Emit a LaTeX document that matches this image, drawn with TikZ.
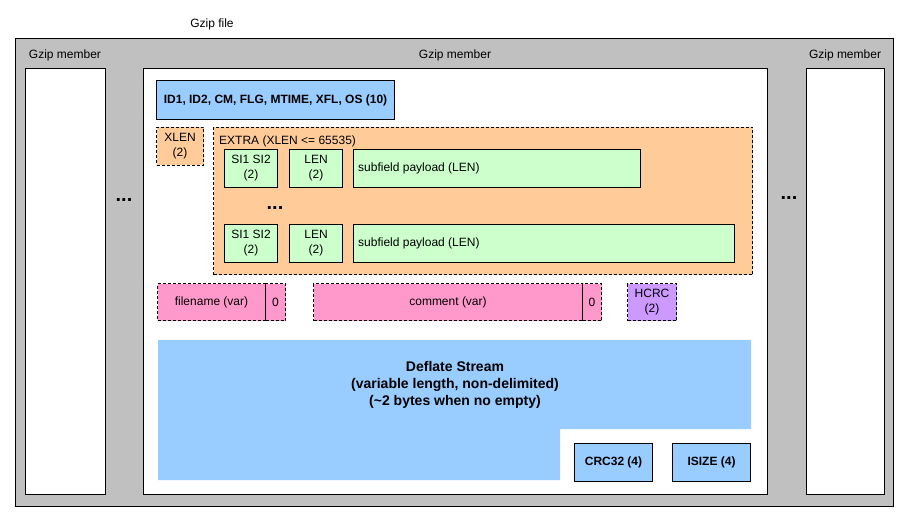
\documentclass[tikz,border=0pt]{standalone}
\usepackage{fontspec}
\setmainfont{Liberation Sans}
\usetikzlibrary{positioning}
\definecolor{membergray}{HTML}{C0C0C0}
\definecolor{hdrblue}{HTML}{99CCFF}
\definecolor{xorange}{HTML}{FFCC99}
\definecolor{subgreen}{HTML}{CCFFCC}
\definecolor{strpink}{HTML}{FF99CC}
\definecolor{crcpurple}{HTML}{CC99FF}
\newcommand{\gzfont}{\fontsize{12}{15}\selectfont}
\tikzstyle{box} = [draw, rectangle, anchor=north west, inner sep=0pt, align=center, line width=1pt]
\tikzstyle{optbox} = [box, dash pattern=on 3pt off 2pt]
\tikzstyle{hdrbox} = [box, fill=hdrblue, font=\fontsize{12}{15}\selectfont\bfseries]
\tikzstyle{subbox} = [box, fill=subgreen, minimum height=38]
\tikzstyle{lbl} = [inner sep=0pt]
\tikzstyle{dots} = [lbl, font=\fontsize{20}{20}\selectfont\bfseries]

\begin{document}
\begin{tikzpicture}[x=1pt, y=-1pt, font=\gzfont]
  \useasboundingbox (0,0) rectangle (909,521);

  % file and members
  \node[box, fill=membergray, minimum width=878, minimum height=468] (file) at (15,38) {};
  \node[lbl] (filelbl) at (212,24) {Gzip file};
  \node[box, fill=white, minimum width=80, minimum height=426] (memL) at (25,68) {};
  \node[box, fill=white, minimum width=624, minimum height=426] (memC) at (143,68) {};
  \node[box, fill=white, minimum width=78, minimum height=426] (memR) at (806,68) {};
  \node[lbl] (memLlbl) at (65,55) {Gzip member};
  \node[lbl] (memClbl) at (455,55) {Gzip member};
  \node[lbl] (memRlbl) at (845,55) {Gzip member};
  \node[dots] (dotsL) at (124,200) {...};
  \node[dots] (dotsR) at (789,198) {...};

  % header
  \node[hdrbox, minimum width=238, minimum height=39] (hdr) at (156,80) {ID1, ID2, CM, FLG, MTIME, XFL, OS (10)};

  % extra field
  \node[optbox, fill=xorange, minimum width=47, minimum height=38] (xlen) at (156,127) {XLEN\\(2)};
  \node[optbox, fill=xorange, minimum width=539, minimum height=147] (extra) at (213,127) {};
  \node[lbl, anchor=west] (extralbl) at (219,141) {EXTRA (XLEN <= 65535)};
  \node[subbox, minimum width=53] (si1) at (224,149) {SI1 SI2\\(2)};
  \node[subbox, minimum width=53] (len1) at (289,149) {LEN\\(2)};
  \node[subbox, minimum width=287] (pay1) at (353,149) {};
  \node[lbl, anchor=west, right=5pt of pay1.west] (pay1lbl) {subfield payload (LEN)};
  \node[dots] (dotsX) at (275,208) {...};
  \node[subbox, minimum width=53] (si2) at (224,224) {SI1 SI2\\(2)};
  \node[subbox, minimum width=53] (len2) at (289,224) {LEN\\(2)};
  \node[subbox, minimum width=381] (pay2) at (353,224) {};
  \node[lbl, anchor=west, right=5pt of pay2.west] (pay2lbl) {subfield payload (LEN)};

  % name, comment, header crc
  \node[optbox, fill=strpink, minimum width=108, minimum height=37] (fname) at (157,283) {filename (var)};
  \node[optbox, fill=strpink, minimum width=20, minimum height=37] (fzero) at (265,283) {0};
  \draw[line width=1pt] (fzero.north west) -- (fzero.south west);
  \node[optbox, fill=strpink, minimum width=269, minimum height=37] (cmt) at (313,283) {comment (var)};
  \node[optbox, fill=strpink, minimum width=19, minimum height=37] (czero) at (582,283) {0};
  \draw[line width=1pt] (czero.north west) -- (czero.south west);
  \node[optbox, fill=crcpurple, minimum width=49, minimum height=37] (hcrc) at (627,283) {HCRC\\(2)};

  % deflate stream and trailer
  \fill[hdrblue] (158,340) -- (751,340) -- (751,429) -- (560,429) -- (560,480) -- (158,480) -- cycle;
  \node[lbl, align=center, font=\fontsize{14}{17}\selectfont\bfseries] (deflate) at (455,385) {Deflate Stream\\(variable length, non-delimited)\\(\textasciitilde2 bytes when no empty)};
  \node[hdrbox, minimum width=78, minimum height=38] (crc) at (574,443) {CRC32 (4)};
  \node[hdrbox, minimum width=78, minimum height=38] (isize) at (672,443) {ISIZE (4)};
\end{tikzpicture}
\end{document}
